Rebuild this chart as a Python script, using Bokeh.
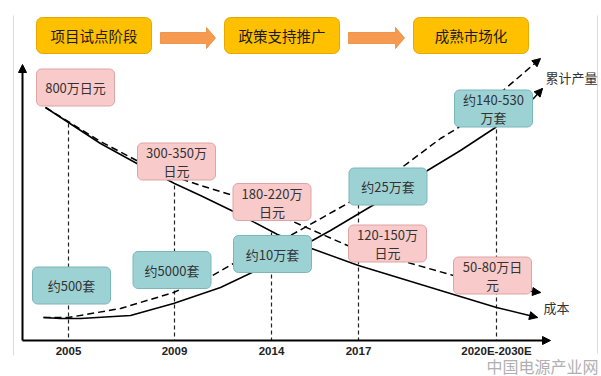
from bokeh.plotting import figure
from bokeh.models import Range1d, Arrow, NormalHead
from bokeh.embed import file_html
from bokeh.resources import INLINE
from bokeh.core.properties import value

# ---------------- data (schematic units: x along time axis, y level) ----------------
stages = ["项目试点阶段", "政策支持推广", "成熟市场化"]
years = ["2005", "2009", "2014", "2017", "2020E-2030E"]
year_pos = [46, 152, 249, 336, 474]

cost_labels = ["800万日元", "300-350万\n日元", "180-220万\n日元", "120-150万\n日元", "50-80万日\n元"]
cost_box_x = [53, 154, 249.5, 365, 470]
cost_box_y = [253, 179, 138.5, 97, 65]

output_labels = ["约500套", "约5000套", "约10万套", "约25万套", "约140-530\n万套"]
output_box_x = [49, 149.5, 250, 365.5, 471]
output_box_y = [55, 70.5, 86.5, 154, 232]

# cost curve (solid) and cost trend (dashed)
cost_x = [23, 78, 118, 152, 178, 211, 255, 289, 336, 418, 474, 515]
cost_y = [233, 197, 175, 157, 145, 129, 106, 92, 75, 50, 33, 23]
cost2_x = [23, 78, 118, 152, 178, 211, 268, 325, 378, 431, 478, 518]
cost2_y = [233, 199, 178, 164, 155, 145, 120, 95, 80, 65, 53, 48]

# output curves: solid and dashed (累计产量)
prod_x = [21, 38, 58, 108, 151, 198, 238, 290, 308, 350, 405, 438, 473, 511, 520]
prod_y = [23, 22, 22, 25, 37, 53, 72, 100, 110, 135, 170, 190, 213, 242, 252]
cum_x = [21, 46, 98, 151, 190, 211, 268, 325, 378, 418, 436, 483, 518]
cum_y = [23, 23, 32, 48, 65, 77, 105, 137, 172, 202, 213, 252, 282]

# top of the year guide lines
guide_top = [217, 155, 108, 150, 232]

stage_x = [71.5, 259.5, 448.5]
stage_y = 305

# ---------------- figure ----------------
p = figure(width=601, height=376, x_range=Range1d(-22, 579), y_range=Range1d(-36, 340),
           output_backend="svg", toolbar_location=None, title=None, min_border=0)
p.axis.visible = False
p.grid.visible = False
p.outline_line_color = None
p.background_fill_color = "white"
p.border_fill_color = "white"

FONT = value("Noto Sans CJK SC")

# faint page borders
p.segment(x0=[-9, 575], y0=[325, 325], x1=[-9, 575], y1=[-15, -13],
          line_color="#dcdcdc", line_width=1)

# header stage boxes
p.quad(left=[x - 57.5 for x in stage_x], right=[x + 57.5 for x in stage_x],
       bottom=stage_y - 18, top=stage_y + 18, fill_color="#FFC000",
       line_color="#E5A700", line_width=1, border_radius=6)
p.text(x=stage_x, y=[stage_y] * 3, text=stages, text_align="center", text_baseline="middle",
       text_font=FONT, text_font_size="14.5px", text_color="#1a1a1a")

# block arrows between stages
xs, ys = [], []
cy = 302.5
for i in range(len(stage_x) - 1):
    a0 = stage_x[i] + 66.5
    a1 = stage_x[i + 1] - 66.5
    hb = a1 - 9
    xs.append([a0, hb, hb, a1, hb, hb, a0])
    ys.append([cy + 5.5, cy + 5.5, cy + 10.5, cy, cy - 10.5, cy - 5.5, cy - 5.5])
p.patches(xs=xs, ys=ys, fill_color="#F59A4E", line_color="#E8883A", line_width=0.8)

# year guide lines
p.segment(x0=year_pos, y0=guide_top, x1=year_pos, y1=[0] * len(year_pos),
          line_color="#222222", line_width=1.2, line_dash="4 3")

# curves
p.line(cost_x, cost_y, line_color="black", line_width=1.5)
p.line(cost2_x, cost2_y, line_color="black", line_width=1.5, line_dash="7 4")
p.line(prod_x, prod_y, line_color="black", line_width=1.5)
p.line(cum_x, cum_y, line_color="black", line_width=1.5, line_dash="7 4")

for xx, yy in [(cost_x, cost_y), (cost2_x, cost2_y), (prod_x, prod_y), (cum_x, cum_y)]:
    p.add_layout(Arrow(end=NormalHead(size=8, fill_color="black", line_color="black"),
                       x_start=xx[-2], y_start=yy[-2], x_end=xx[-1], y_end=yy[-1],
                       line_alpha=0))

# axes
p.add_layout(Arrow(end=NormalHead(size=8, fill_color="black", line_color="black"),
                   x_start=0, y_start=0, x_end=0, y_end=276, line_width=2, line_color="black"))
p.add_layout(Arrow(end=NormalHead(size=8, fill_color="black", line_color="black"),
                   x_start=0, y_start=0, x_end=528, y_end=0, line_width=2, line_color="black"))

# label boxes
W, H = 78, 37
p.quad(left=[x - W / 2 for x in cost_box_x], right=[x + W / 2 for x in cost_box_x],
       bottom=[y - H / 2 for y in cost_box_y], top=[y + H / 2 for y in cost_box_y],
       fill_color="#F8CACA", line_color="#DDA4A4", line_width=1, border_radius=5)
p.quad(left=[x - W / 2 for x in output_box_x], right=[x + W / 2 for x in output_box_x],
       bottom=[y - H / 2 for y in output_box_y], top=[y + H / 2 for y in output_box_y],
       fill_color="#9DD2D5", line_color="#7BB6BA", line_width=1, border_radius=5)

# box texts, one glyph per line
tx, ty, tt = [], [], []
for labels, bx, by in [(cost_labels, cost_box_x, cost_box_y),
                       (output_labels, output_box_x, output_box_y)]:
    for lab, x, y in zip(labels, bx, by):
        parts = lab.split("\n")
        n = len(parts)
        for k, part in enumerate(parts):
            tx.append(x)
            ty.append(y + (n - 1) * 9 - k * 18)
            tt.append(part)
p.text(x=tx, y=ty, text=tt, text_align="center", text_baseline="middle",
       text_font=FONT, text_font_size="13px", text_color="#333333")

# year tick labels
p.text(x=year_pos, y=[-10] * len(year_pos), text=years, text_align="center",
       text_baseline="middle", text_font=value("Liberation Sans"), text_font_size="11.5px",
       text_font_style="bold", text_color="#222222")

# series names
p.text(x=[523, 521], y=[263, 33], text=["累计产量", "成本"], text_align="left",
       text_baseline="middle", text_font=FONT, text_font_size="13px", text_color="#333333")

# watermark
p.text(x=[576], y=[-25], text=["中国电源产业网"], text_align="right", text_baseline="middle",
       text_font=FONT, text_font_size="16px", text_color="#b0b0b0")

open("out.html", "w").write(file_html(p, INLINE))
